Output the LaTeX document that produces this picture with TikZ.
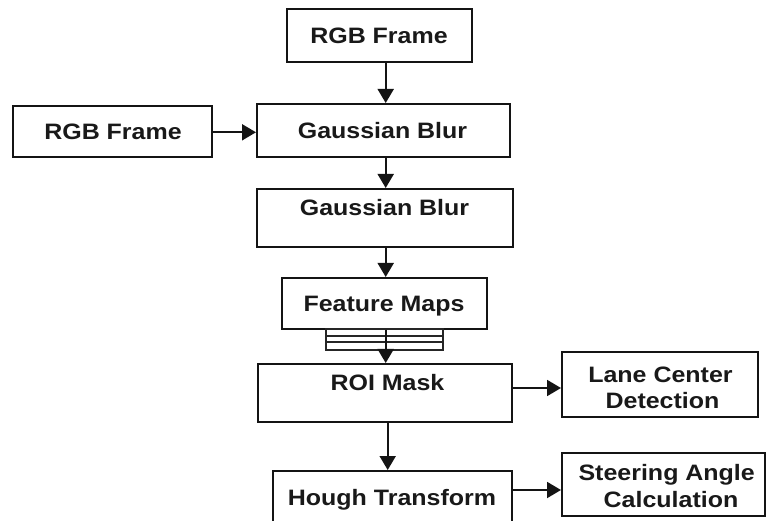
\documentclass[tikz,border=0pt]{standalone}
\usepackage{fontspec}
\setmainfont[FakeStretch=1.12]{Liberation Sans}
\usetikzlibrary{arrows.meta}
\begin{document}
\begin{tikzpicture}[x=1pt,y=-1pt,
  box/.style={draw=black!92, line width=2pt, inner sep=0pt},
  lbl/.style={font=\fontsize{22.3}{26}\selectfont\bfseries, text=black!90,
              inner sep=0pt, anchor=base},
  arr/.style={draw=black!92, line width=1.9pt,
              -{Triangle[length=14pt,width=16pt]}},
  thin/.style={draw=black!85, line width=1.2pt}
]
\path[use as bounding box, fill=white] (0,0) rectangle (766,521);

% processing boxes
\node[box, minimum width=185pt, minimum height=53pt] (rgbtop)  at (379.5,35.5) {};
\node[box, minimum width=199pt, minimum height=51pt] (rgbleft) at (112.5,131.5) {};
\node[box, minimum width=253pt, minimum height=53pt] (gb1)     at (383.5,130.5) {};
\node[box, minimum width=256pt, minimum height=58pt] (gb2)     at (385,218) {};
\node[box, minimum width=205pt, minimum height=51pt] (fm)      at (384.5,303.5) {};
\node[box, minimum width=254pt, minimum height=58pt] (roi)     at (385,393) {};
\node[box, minimum width=196pt, minimum height=65pt] (lane)    at (660,384.5) {};
\node[box, minimum width=239pt, minimum height=59pt] (hough)   at (392.5,500.5) {};
\node[box, minimum width=203pt, minimum height=63pt] (steer)   at (663.5,484.5) {};

% labels
\node[lbl] (trgbtop)  at (379,43.5)   {RGB Frame};
\node[lbl] (trgbleft) at (113,139.3)  {RGB Frame};
\node[lbl] (tgb1)     at (382.5,139)  {Gaussian Blur};
\node[lbl] (tgb2)     at (384.5,216)  {Gaussian Blur};
\node[lbl] (tfm)      at (384,311.5)  {Feature Maps};
\node[lbl] (troi)     at (387.5,390.5){ROI Mask};
\node[lbl] (tlane1)   at (660.5,382.5){Lane Center};
\node[lbl] (tlane2)   at (662.5,408)  {Detection};
\node[lbl] (though)   at (392,505)    {Hough Transform};
\node[lbl] (tsteer1)  at (666.7,480)  {Steering Angle};
\node[lbl] (tsteer2)  at (671,507)    {Calculation};

% stacked feature-map layers under the Feature Maps box
\node[thin, minimum width=117pt, minimum height=7pt, inner sep=0pt] (lay1) at (384.5,332.5) {};
\node[thin, minimum width=117pt, minimum height=6pt, inner sep=0pt] (lay2) at (384.5,339) {};
\node[thin, minimum width=117pt, minimum height=8pt, inner sep=0pt] (lay3) at (384.5,346) {};

% connectors
\coordinate (sp) at (385.7,0);
\coordinate (hx) at (387.7,0);
\coordinate (ly) at (0,132.3);
\coordinate (ry) at (0,388);
\coordinate (hy) at (0,490);
\draw[arr] (rgbtop.south -| sp) -- (gb1.north -| sp);
\draw[arr] (rgbleft.east |- ly) -- (gb1.west |- ly);
\draw[arr] (gb1.south -| sp) -- (gb2.north -| sp);
\draw[arr] (gb2.south -| sp) -- (fm.north -| sp);
\draw[arr] (fm.south -| sp) -- (roi.north -| sp);
\draw[arr] (roi.east |- ry) -- (lane.west |- ry);
\draw[arr] (roi.south -| hx) -- (hough.north -| hx);
\draw[arr] (hough.east |- hy) -- (steer.west |- hy);
\end{tikzpicture}
\end{document}
